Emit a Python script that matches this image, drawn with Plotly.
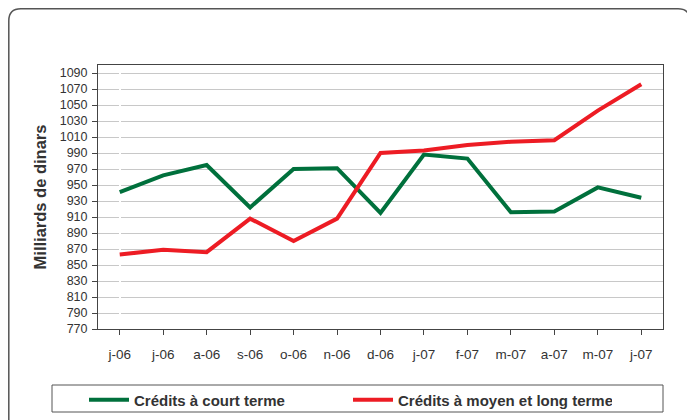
import plotly.graph_objects as go

# Months (Jan 2006 - Jan 2007)
months = ['j-06', 'j-06', 'a-06', 's-06', 'o-06', 'n-06', 'd-06',
          'j-07', 'f-07', 'm-07', 'a-07', 'm-07', 'j-07']
court_terme = [941, 962, 975, 922, 970, 971, 915, 988, 983, 916, 917, 947, 934]
moyen_long_terme = [863, 869, 866, 908, 880, 908, 990, 993, 1000, 1004, 1006, 1043, 1076]
y_ticks = list(range(770, 1091, 20))

x_idx = list(range(len(months)))

fig = go.Figure()
fig.add_trace(go.Scatter(x=x_idx, y=court_terme, mode='lines',
                         name='Crédits à court terme',
                         line=dict(color='#00703c', width=4)))
fig.add_trace(go.Scatter(x=x_idx, y=moyen_long_terme, mode='lines',
                         name='Crédits à moyen et long terme',
                         line=dict(color='#ed1c24', width=4)))

# page has an 8px body margin, so figure is 687x412 and
# page pixel p sits at figure pixel p - 8
OFF = 8
W, H = 695 - OFF, 420 - OFF
L, R, T, B = 98 - OFF, 663 - OFF, 65 - OFF, 329 - OFF


def px(x):
    return (x - OFF - L) / (R - L)


def py(y):
    return (B - (y - OFF)) / (B - T)


# outer rounded frame
x0, x1, y0, y1 = px(8.8), px(690), py(8.8), py(440)
rx, ry = 12 / (R - L), 12 / (B - T)
frame = (f"M {x0 + rx},{y0} L {x1 - rx},{y0} Q {x1},{y0} {x1},{y0 - ry} "
         f"L {x1},{y1 + ry} Q {x1},{y1} {x1 - rx},{y1} "
         f"L {x0 + rx},{y1} Q {x0},{y1} {x0},{y1 + ry} "
         f"L {x0},{y0 - ry} Q {x0},{y0} {x0 + rx},{y0} Z")
fig.add_shape(type='path', path=frame, xref='paper', yref='paper',
              line=dict(color='#555555', width=1.5), layer='below')

# legend box
fig.add_shape(type='rect', xref='paper', yref='paper',
              x0=px(52), x1=px(663), y0=py(412), y1=py(385),
              line=dict(color='#555555', width=1))

fig.update_layout(
    width=W, height=H,
    margin=dict(l=L, r=W - R, t=T, b=H - B, autoexpand=False),
    plot_bgcolor='white', paper_bgcolor='white',
    font=dict(family='Liberation Sans, Arial', size=12, color='#333333'),
    showlegend=True,
    legend=dict(orientation='h', x=px(84), xanchor='left',
                y=py(400), yanchor='middle',
                entrywidth=209, entrywidthmode='pixels',
                font=dict(size=15, color='#333333', weight='bold'),
                bgcolor='rgba(0,0,0,0)', itemwidth=40),
    xaxis=dict(tickvals=x_idx, ticktext=months, range=[-0.5, 12.5],
               tickson='boundaries', ticks='outside', ticklen=5,
               tickcolor='#444444', showgrid=False,
               showline=True, linecolor='#444444', linewidth=1, mirror=True,
               ticklabelstandoff=8, tickfont=dict(size=13.5, color='#333333')),
    yaxis=dict(range=[770, 1100], tickvals=y_ticks, ticks='outside',
               ticklen=5, tickcolor='#444444',
               showgrid=True, gridcolor='#c8c8c8', gridwidth=1,
               showline=True, linecolor='#444444', linewidth=1, mirror=True,
               ticklabelstandoff=2,
               tickfont=dict(size=12.5, color='#333333'),
               title=dict(text='Milliards de dinars', standoff=8,
                          font=dict(size=16.5, color='#333333', weight='bold'))),
)

fig.write_html("out.html")
